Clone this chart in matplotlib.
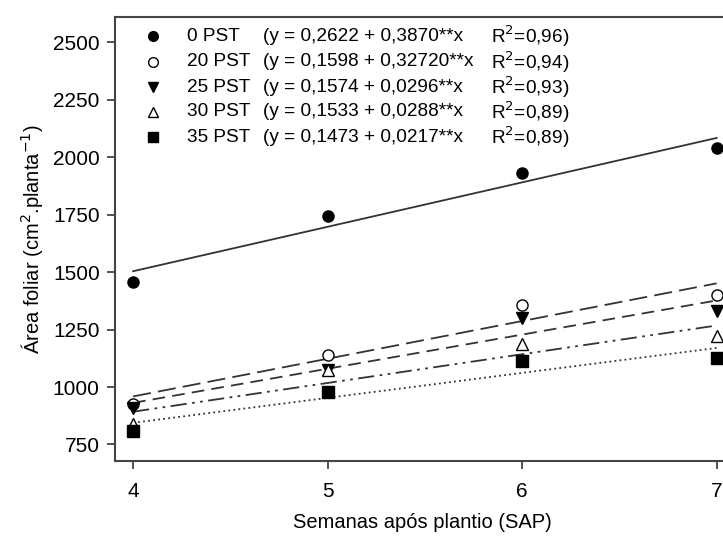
import numpy as np
import matplotlib
matplotlib.use("Agg")
import matplotlib.pyplot as plt

plt.rcParams['font.family'] = ['Liberation Sans', 'DejaVu Sans']

weeks = [4, 5, 6, 7]
series_names = ["0 PST", "20 PST", "25 PST", "30 PST", "35 PST"]
pst0 = [1458, 1745, 1932, 2040]
pst20 = [925, 1140, 1355, 1400]
pst25 = [910, 1075, 1300, 1330]
pst30 = [840, 1075, 1185, 1220]
pst35 = [808, 980, 1115, 1125]
equations = ["(y = 0,2622 + 0,3870**x",
             "(y = 0,1598 + 0,32720**x",
             "(y = 0,1574 + 0,0296**x",
             "(y = 0,1533 + 0,0288**x",
             "(y = 0,1473 + 0,0217**x"]
r2_labels = ["R$^2$=0,96)", "R$^2$=0,94)", "R$^2$=0,93)", "R$^2$=0,89)", "R$^2$=0,89)"]
yticks = [750, 1000, 1250, 1500, 1750, 2000, 2250, 2500]

values = [pst0, pst20, pst25, pst30, pst35]
markers = ['o', 'o', 'v', '^', 's']
mfaces = ['black', 'white', 'black', 'white', 'black']
linestyles = ['-', (0, (10, 4)), (0, (7, 4)), (0, (9, 3, 1.5, 3, 1.5, 3)), (0, (1, 1.8))]

fig = plt.figure(figsize=(7.23, 5.39), dpi=100)
W, H = 723, 539
ax = fig.add_axes([115 / W, 1 - 461 / H, 1 - 115 / W + 0.01, (461 - 17) / H])

xfit = np.array([4.0, 7.0])
for vals, m, fc, ls in zip(values, markers, mfaces, linestyles):
    coef = np.polyfit(weeks, vals, 1)
    ax.plot(xfit, np.polyval(coef, xfit), color='#333333', lw=1.3, linestyle=ls, zorder=2)
    ax.plot(weeks, vals, linestyle='none', marker=m, ms=8, mfc=fc, mec='black',
            mew=1.0, zorder=3)

ax.set_xlim(3.907, 7.07)
ax.set_ylim(678, 2610)
ax.set_xticks(weeks)
ax.set_yticks(yticks)
ax.tick_params(direction='out', length=6, width=1.2, labelsize=15, color='#333333', pad=5)
ax.tick_params(axis='x', pad=9)
for s in ['left', 'bottom', 'top']:
    ax.spines[s].set_linewidth(1.5)
    ax.spines[s].set_color('#444444')
ax.spines['right'].set_visible(False)

ax.set_xlabel("Semanas após plantio (SAP)", fontsize=14.5, labelpad=9)
ax.set_ylabel("Área foliar (cm$^2$.planta$^{-1}$)", fontsize=14.5, labelpad=6)

def px2ax(x, y):
    bb = ax.get_position()
    fx, fy = x / W, 1 - y / H
    return (fx - bb.x0) / bb.width, (fy - bb.y0) / bb.height

row_y = [36, 62, 87, 112, 137]
for i in range(5):
    mx, my = px2ax(153, row_y[i])
    ax.plot([mx], [my], transform=ax.transAxes, marker=markers[i], ms=7,
            mfc=mfaces[i], mec='black', mew=1.0, linestyle='none', clip_on=False)
    tx, ty = px2ax(187, row_y[i])
    ax.text(tx, ty, series_names[i], transform=ax.transAxes, fontsize=13.7, va='center', ha='left')
    tx, ty = px2ax(263, row_y[i])
    ax.text(tx, ty, equations[i], transform=ax.transAxes, fontsize=13.7, va='center', ha='left')
    tx, ty = px2ax(491, row_y[i])
    ax.text(tx, ty, r2_labels[i], transform=ax.transAxes, fontsize=13.7, va='center', ha='left')

fig.savefig("out.png", dpi=100)
